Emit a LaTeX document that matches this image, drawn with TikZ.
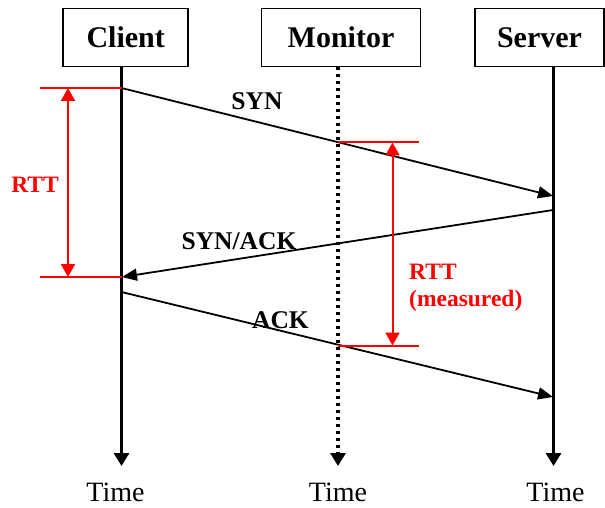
\documentclass[tikz,border=0pt]{standalone}
\usepackage{fontspec}
\setmainfont{Liberation Serif}
\usetikzlibrary{arrows.meta, positioning}
\definecolor{rttred}{HTML}{FF0000}
\tikzset{
  hostbox/.style={
    rectangle, draw=black, line width=1.5pt, fill=white,
    minimum width=#1, minimum height=58pt, inner sep=0pt,
    font=\fontsize{30}{36}\selectfont\bfseries
  },
  lifeline/.style={line width=3pt, -{Triangle[length=13pt,width=15pt]}},
  monline/.style={lifeline, line width=3.3pt, dash pattern=on 3pt off 4pt},
  msg/.style={line width=1.8pt, -{Triangle[length=15pt,width=12pt]}},
  msglbl/.style={inner sep=0pt, font=\fontsize{25.5}{30}\selectfont\bfseries},
  timelbl/.style={inner sep=0pt, font=\fontsize{28}{32}\selectfont},
  rttline/.style={draw=rttred, line width=2pt},
  rttarrow/.style={
    draw=rttred, line width=2pt,
    {Triangle[length=13pt,width=14pt]}-{Triangle[length=13pt,width=14pt]}
  },
  rttlbl/.style={
    text=rttred, inner sep=0pt, align=left,
    font=\fontsize{23.5}{27}\selectfont\bfseries
  }
}

\begin{document}
\begin{tikzpicture}[x=1pt, y=-1pt]
    \useasboundingbox (0,0) rectangle (605,508);

    % Hosts
    \node[hostbox=125pt] (client) at (125.7,37.5) {Client};
    \node[hostbox=159pt] (monitor) at (341,37.5) {Monitor};
    \node[hostbox=129pt] (server) at (539.5,37.5) {Server};

    % Ends of the time axes
    \coordinate (clientend) at (121.5,466);
    \coordinate (monitorend) at (338,466);
    \coordinate (serverend) at (553.5,466);

    \draw[lifeline] (clientend |- client.south) -- (clientend);
    \draw[monline] (monitorend |- monitor.south) -- (monitorend);
    \draw[lifeline] (serverend |- server.south) -- (serverend);

    \node[timelbl, below=17pt of clientend, xshift=-6pt] (clienttime) {Time};
    \node[timelbl, below=17pt of monitorend] (monitortime) {Time};
    \node[timelbl, below=17pt of serverend, xshift=2pt] (servertime) {Time};

    % Handshake
    \coordinate (synout) at (121.5,88);
    \coordinate (synin) at (553,196);
    \coordinate (synackout) at (553,210);
    \coordinate (synackin) at (122,277);
    \coordinate (ackout) at (121.5,292);
    \coordinate (ackin) at (553,397);

    \draw[msg] (synout) -- (synin);
    \draw[msg] (synackout) -- (synackin);
    \draw[msg] (ackout) -- (ackin);

    \node[msglbl] (synlbl) at (257,101) {SYN};
    \node[msglbl] (synacklbl) at (239,241) {SYN/ACK};
    \node[msglbl] (acklbl) at (280.5,320) {ACK};

    % RTT at the client
    \coordinate (rtttop) at (40,88);
    \coordinate (rttbot) at (40,277);
    \draw[rttline] (rtttop) -- (synout);
    \draw[rttline] (rttbot) -- (synackin);
    \draw[rttarrow] ([xshift=28pt]rtttop) -- ([xshift=28pt]rttbot);
    \node[rttlbl] (rttlbl) at (35,185) {RTT};

    % RTT seen by the monitor
    \coordinate (montop) at (338,142.5);
    \coordinate (monbot) at (338,345.5);
    \coordinate (montopend) at (419,142.5);
    \coordinate (monbotend) at (419,345.5);
    \draw[rttline] (montop) -- (montopend);
    \draw[rttline] (monbot) -- (monbotend);
    \draw[rttarrow] ([xshift=54.5pt]montop) -- ([xshift=54.5pt]monbot);
    \node[rttlbl, anchor=west] (measlbl) at (409,288) {RTT\\(measured)};
  \end{tikzpicture}
\end{document}
